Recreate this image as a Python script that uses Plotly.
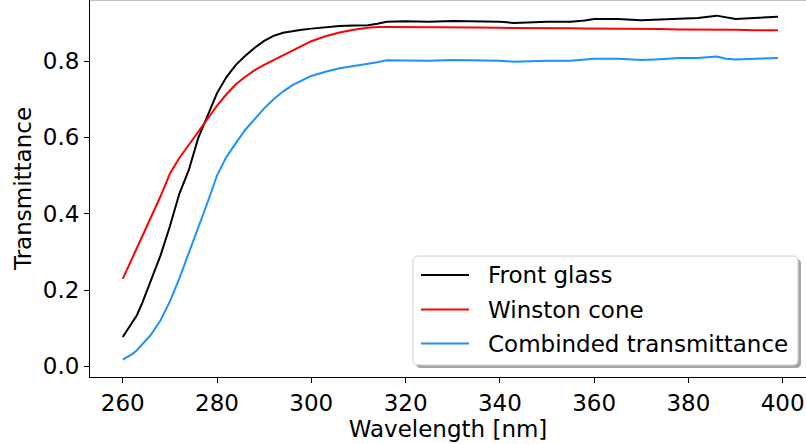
import plotly.graph_objects as go

# Wavelength grid [nm]
wavelength = [260, 262, 263, 264, 266, 268, 270, 272, 274, 276, 278, 280, 282, 284,
              286, 288, 290, 292, 294, 296, 298, 300, 303, 306, 309, 312, 314, 316,
              320, 325, 330, 335, 340, 343, 346, 350, 355, 358, 360, 365, 370, 374,
              378, 382, 386, 388, 390, 394, 399]

front_glass = [0.077, 0.113, 0.134, 0.162, 0.225, 0.290, 0.367, 0.452, 0.514, 0.598,
               0.657, 0.716, 0.758, 0.790, 0.814, 0.835, 0.853, 0.866, 0.874, 0.879,
               0.882, 0.885, 0.889, 0.892, 0.893, 0.894, 0.898, 0.903, 0.904, 0.903,
               0.905, 0.904, 0.903, 0.900, 0.902, 0.903, 0.903, 0.906, 0.910, 0.910,
               0.907, 0.909, 0.912, 0.913, 0.919, 0.914, 0.910, 0.913, 0.916]

winston_cone = [0.229, 0.283, 0.309, 0.336, 0.390, 0.445, 0.505, 0.546, 0.580, 0.614,
                0.649, 0.683, 0.713, 0.739, 0.759, 0.776, 0.790, 0.803, 0.816, 0.828,
                0.840, 0.852, 0.865, 0.875, 0.882, 0.887, 0.889, 0.889, 0.889, 0.888,
                0.888, 0.888, 0.887, 0.887, 0.887, 0.886, 0.886, 0.885, 0.885, 0.885,
                0.884, 0.884, 0.883, 0.883, 0.882, 0.882, 0.882, 0.881, 0.881]

combined = [0.0175, 0.032, 0.042, 0.055, 0.083, 0.120, 0.170, 0.230, 0.296, 0.365,
            0.430, 0.500, 0.549, 0.585, 0.620, 0.648, 0.676, 0.700, 0.720, 0.737,
            0.750, 0.761, 0.772, 0.781, 0.787, 0.792, 0.797, 0.802, 0.802, 0.801,
            0.803, 0.802, 0.801, 0.798, 0.800, 0.801, 0.801, 0.803, 0.806, 0.806,
            0.803, 0.805, 0.808, 0.808, 0.812, 0.806, 0.804, 0.806, 0.808]

series_names = ["Front glass", "Winston cone", "Combinded transmittance"]
series_colors = ["#000000", "#ff0000", "#1e90ff"]
series_values = [front_glass, winston_cone, combined]

x_ticks = [260, 280, 300, 320, 340, 360, 380, 400]
y_ticks = [0.0, 0.2, 0.4, 0.6, 0.8]

W, H = 806, 444
ML, MR, MT, MB = 90, 0, 0, 67
FONT = "DejaVu Sans"
FS = 23

fig = go.Figure()
for name, color, vals in zip(series_names, series_colors, series_values):
    fig.add_trace(go.Scatter(x=wavelength, y=vals, mode="lines", name=name,
                             line=dict(color=color, width=2), showlegend=False))

plot_w = W - ML - MR
plot_h = H - MT - MB


def px(x):
    return (x - ML) / plot_w


def py(y):
    return 1 - (y - MT) / plot_h


def rounded_rect(x0, y0, x1, y1, r):
    # path in paper coordinates, built from pixel corners
    rx = r / plot_w
    ry = r / plot_h
    a, b, c, d = px(x0), py(y0), px(x1), py(y1)  # b top, d bottom
    return (f"M{a+rx},{b} L{c-rx},{b} Q{c},{b} {c},{b-ry} "
            f"L{c},{d+ry} Q{c},{d} {c-rx},{d} L{a+rx},{d} Q{a},{d} {a},{d+ry} "
            f"L{a},{b-ry} Q{a},{b} {a+rx},{b} Z")


shapes = []
# legend box with drop shadow
lx0, ly0, lx1, ly1 = 413, 256, 798, 365
shapes.append(dict(type="path", xref="paper", yref="paper",
                   path=rounded_rect(lx0 + 3, ly0 + 3, lx1 + 3, ly1 + 3, 5),
                   fillcolor="#a6a6a6", line=dict(width=0), layer="above"))
shapes.append(dict(type="path", xref="paper", yref="paper",
                   path=rounded_rect(lx0, ly0, lx1, ly1, 5),
                   fillcolor="rgba(255,255,255,1)", line=dict(color="#d0d0d0", width=1),
                   layer="above"))
# top spine
shapes.append(dict(type="line", xref="paper", yref="paper", x0=0, x1=1, y0=1, y1=1,
                   line=dict(color="#c0c0c0", width=2), layer="above"))

annotations = []
row_y = [275, 309.5, 343.5]
for name, color, ry in zip(series_names, series_colors, row_y):
    shapes.append(dict(type="line", xref="paper", yref="paper",
                       x0=px(421), x1=px(469), y0=py(ry), y1=py(ry),
                       line=dict(color=color, width=2), layer="above"))
    annotations.append(dict(xref="paper", yref="paper", x=px(486), y=py(ry),
                            text=name, showarrow=False, xanchor="left", yanchor="middle",
                            font=dict(family=FONT, size=FS, color="black")))

fig.update_layout(
    width=W, height=H,
    margin=dict(l=ML, r=MR, t=MT, b=MB, pad=0),
    paper_bgcolor="white", plot_bgcolor="white",
    font=dict(family=FONT, size=FS, color="black"),
    showlegend=False,
    shapes=shapes,
    annotations=annotations,
)
fig.update_xaxes(range=[253.05, 404.95], tickvals=x_ticks,
                 ticktext=[str(t) for t in x_ticks],
                 ticks="outside", ticklen=5, tickwidth=1, tickcolor="black",
                 showline=True, linecolor="black", linewidth=1,
                 showgrid=False, zeroline=False,
                 title=dict(text="Wavelength [nm]", font=dict(size=FS), standoff=1))
fig.update_yaxes(range=[-0.028, 0.96], tickvals=y_ticks,
                 ticktext=[f"{t:.1f}" for t in y_ticks],
                 ticks="outside", ticklen=5, tickwidth=1, tickcolor="black",
                 showline=True, linecolor="black", linewidth=1,
                 showgrid=False, zeroline=False,
                 title=dict(text="Transmittance", font=dict(size=FS), standoff=4))

fig.write_html("out.html")
